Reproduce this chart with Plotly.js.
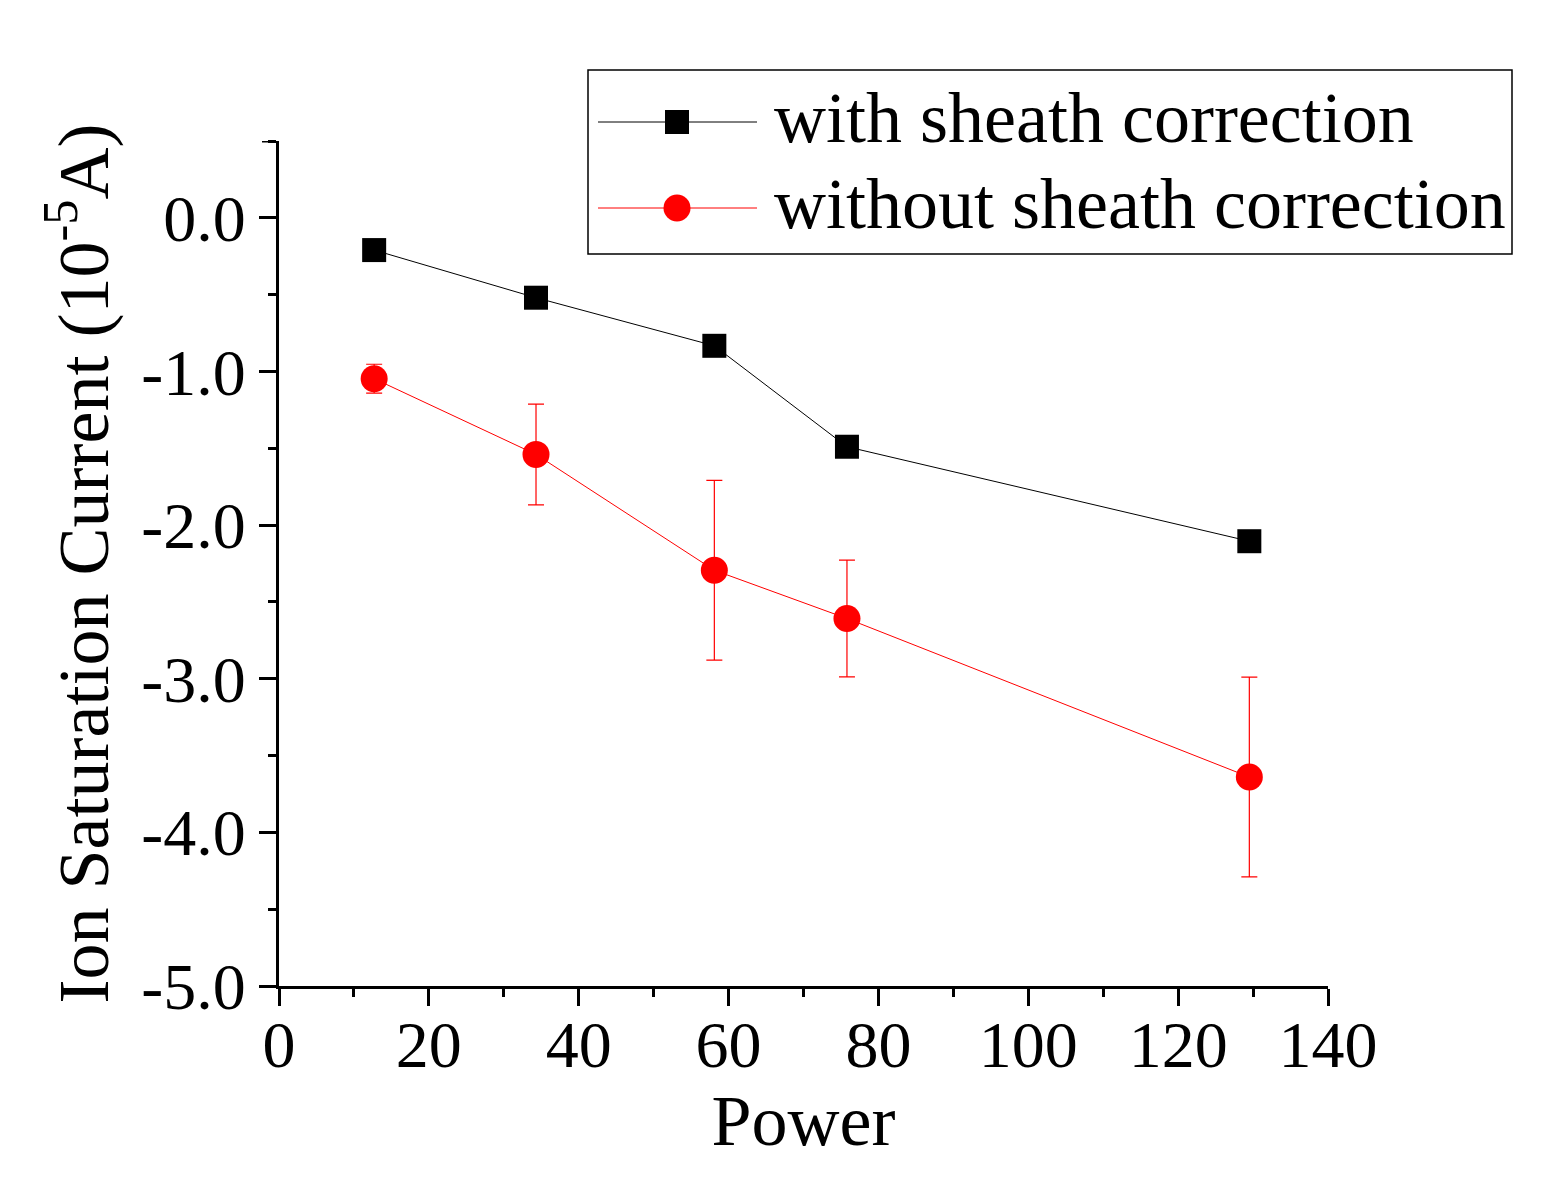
<!DOCTYPE html>
<html>
<head>
<meta charset="utf-8">
<script src="https://cdn.plot.ly/plotly-3.0.1.min.js"></script>
<style>
  body { margin: 0; background: #fff; }
  #chart { width: 1552px; height: 1189px; }
</style>
</head>
<body>
<div id="chart"></div>
<script>
// === Data === //
var power = [12.7, 34.3, 58.1, 75.8, 129.5];
var currentWith = [-0.21, -0.52, -0.833, -1.49, -2.105];
var currentWithout = [-1.047, -1.54, -2.294, -2.608, -3.64];
var errWithout = [0.094, 0.328, 0.585, 0.38, 0.65];

var seriesNames = ['with sheath correction', 'without sheath correction'];
var yTickVals = [0, -1, -2, -3, -4, -5];
var yTickText = ['0.0', '-1.0', '-2.0', '-3.0', '-4.0', '-5.0'];
var yTop = 0.5;

// === Page geometry === //
var W = 1552, H = 1189;
var M = {l: 279, r: 224, t: 141, b: 203};
var FONT = '"Liberation Serif", "Times New Roman", serif';

// pixel -> paper helpers (for the hand made legend only)
function px(x){ return (x - M.l) / (W - M.l - M.r); }
function py(y){ return (H - M.b - y) / (H - M.t - M.b); }

var traces = [
    {
        x: power,
        y: currentWith,
        name: seriesNames[0],
        type: 'scatter',
        mode: 'lines+markers',
        line: {color: 'black', width: 1},
        marker: {symbol: 'square', size: 24, color: 'black'},
        showlegend: false
    },
    {
        x: power,
        y: currentWithout,
        name: seriesNames[1],
        type: 'scatter',
        mode: 'lines+markers',
        line: {color: 'red', width: 1},
        marker: {symbol: 'circle', size: 27, color: 'red'},
        error_y: {type: 'data', array: errWithout, visible: true,
                  color: 'red', thickness: 1.2, width: 8},
        showlegend: false
    }
];

// === Legend box drawn by hand === //
var rowY = [py(122), py(208)];
var textY = [py(118), py(204)];
var lineX0 = px(598), lineX1 = px(757), markX = px(677), textX = px(772);

var shapes = [
    // unlabeled major tick at the top end of the y axis
    {type: 'line', xref: 'paper', yref: 'y',
     xsizemode: 'pixel', xanchor: 0, x0: -17, x1: 0,
     y0: yTop, y1: yTop, line: {color: 'black', width: 3}},
    {type: 'rect', xref: 'paper', yref: 'paper',
     x0: px(588), x1: px(1512), y0: py(254), y1: py(70),
     line: {color: 'black', width: 1.5}, fillcolor: 'white', layer: 'below'},
    {type: 'line', xref: 'paper', yref: 'paper',
     x0: lineX0, x1: lineX1, y0: rowY[0], y1: rowY[0],
     line: {color: 'black', width: 1}},
    {type: 'line', xref: 'paper', yref: 'paper',
     x0: lineX0, x1: lineX1, y0: rowY[1], y1: rowY[1],
     line: {color: 'red', width: 1}},
    {type: 'rect', xref: 'paper', yref: 'paper',
     xsizemode: 'pixel', ysizemode: 'pixel',
     xanchor: markX, yanchor: rowY[0],
     x0: -12, x1: 12, y0: -12, y1: 12,
     fillcolor: 'black', line: {width: 0}},
    {type: 'circle', xref: 'paper', yref: 'paper',
     xsizemode: 'pixel', ysizemode: 'pixel',
     xanchor: markX, yanchor: rowY[1],
     x0: -13.5, x1: 13.5, y0: -13.5, y1: 13.5,
     fillcolor: 'red', line: {width: 0}}
];

var annotations = seriesNames.map(function(name, i){
    return {
        text: name, xref: 'paper', yref: 'paper',
        x: textX, y: textY[i], xanchor: 'left', yanchor: 'middle',
        showarrow: false, font: {family: FONT, size: 72, color: 'black'}
    };
});

var layout = {
    width: W,
    height: H,
    margin: M,
    paper_bgcolor: 'white',
    plot_bgcolor: 'white',
    font: {family: FONT, size: 66, color: 'black'},
    showlegend: false,
    xaxis: {
        range: [0, 140],
        dtick: 20,
        tick0: 0,
        ticks: 'outside',
        ticklen: 17,
        tickwidth: 3,
        tickcolor: 'black',
        ticklabelstandoff: -18,
        minor: {dtick: 10, ticks: 'outside', ticklen: 8, tickwidth: 3, tickcolor: 'black'},
        showline: true,
        linewidth: 3,
        linecolor: 'black',
        showgrid: false,
        zeroline: false,
        tickfont: {family: FONT, size: 66},
        title: {text: 'Power', font: {family: FONT, size: 72}, standoff: 2}
    },
    yaxis: {
        range: [-5, yTop],
        tickmode: 'array',
        tickvals: yTickVals,
        ticktext: yTickText,
        ticks: 'outside',
        ticklen: 17,
        tickwidth: 3,
        tickcolor: 'black',
        minor: {dtick: 0.5, tick0: 0, ticks: 'outside', ticklen: 8, tickwidth: 3, tickcolor: 'black'},
        showline: true,
        linewidth: 3,
        linecolor: 'black',
        showgrid: false,
        zeroline: false,
        tickfont: {family: FONT, size: 66},
        title: {text: 'Ion Saturation Current (10<sup>-5</sup>A)',
                font: {family: FONT, size: 72}, standoff: 10}
    },
    shapes: shapes,
    annotations: annotations
};

Plotly.newPlot('chart', traces, layout, {displayModeBar: false, staticPlot: true});
</script>
</body>
</html>
